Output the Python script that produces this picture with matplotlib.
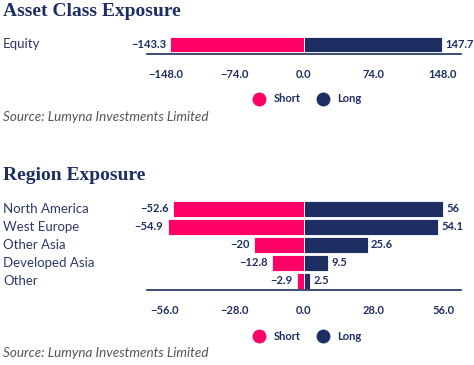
import matplotlib
matplotlib.use("Agg")
import matplotlib.pyplot as plt
from matplotlib.lines import Line2D
from matplotlib import transforms

asset_categories = ["Equity"]
asset_short = [-143.3]
asset_long = [147.7]
asset_ticks = [-148.0, -74.0, 0.0, 74.0, 148.0]

region_categories = ["North America", "West Europe", "Other Asia", "Developed Asia", "Other"]
region_short = [-52.6, -54.9, -20, -12.8, -2.9]
region_long = [56, 54.1, 25.6, 9.5, 2.5]
region_ticks = [-56.0, -28.0, 0.0, 28.0, 56.0]

PINK = "#FF0066"
NAVY = "#1D2F62"
GRAY = "#555555"
FONT = "Lato"

W, H = 474, 365
fig = plt.figure(figsize=(W / 100, H / 100), dpi=100)

def fmt_label(v):
    s = ("%g" % abs(v))
    return ("\u2212" + s) if v < 0 else s

def panel(title, title_y, cats, short, long_, ticks, ax_top, ax_bot, first_center, unit, lim,
          legend_y, source_y):
    x0, x1 = 147, 461
    ax = fig.add_axes([x0 / W, 1 - ax_bot / H, (x1 - x0) / W, (ax_bot - ax_top) / H])
    n = len(cats)
    ys = list(range(n))
    top_units = (first_center - ax_top) / unit
    bot_units = (ax_bot - (first_center + (n - 1) * unit)) / unit
    ax.set_ylim(n - 1 + bot_units, -top_units)
    ax.set_xlim(-lim, lim)
    h = 0.88
    ax.barh(ys, short, height=h, color=PINK, edgecolor="white", linewidth=0.6)
    ax.barh(ys, long_, height=h, color=NAVY, edgecolor="white", linewidth=0.6)
    for y, s, l in zip(ys, short, long_):
        ax.annotate(fmt_label(s), (s, y), xytext=(-3, 0), textcoords="offset points",
                    ha="right", va="center", fontsize=8, fontweight="bold", color=NAVY,
                    family=FONT, annotation_clip=False)
        ax.annotate(fmt_label(l), (l, y), xytext=(2.5, 0), textcoords="offset points",
                    ha="left", va="center", fontsize=8, fontweight="bold", color=NAVY,
                    family=FONT, annotation_clip=False)
    for sp in ["top", "right", "left"]:
        ax.spines[sp].set_visible(False)
    ax.spines["bottom"].set_color(NAVY)
    ax.spines["bottom"].set_linewidth(1.2)
    ax.set_yticks([])
    ax.set_xticks(ticks)
    ax.set_xticklabels([("\u2212%.1f" % abs(t)) if t < 0 else ("%.1f" % t) for t in ticks],
                       fontsize=8, fontweight="bold", color=NAVY, family=FONT)
    ax.tick_params(axis="x", length=0, pad=11)
    ax.patch.set_alpha(0)
    tr = transforms.blended_transform_factory(fig.transFigure, ax.transData)
    for y, c in zip(ys, cats):
        ax.text(3 / W, y, c, transform=tr, ha="left", va="center", fontsize=9.5,
                color="#2B3A66", family=FONT, fontweight="normal")
    fig.text(3 / W, 1 - title_y / H, title, ha="left", va="center", fontsize=14,
             fontweight="bold", color=NAVY, family="Liberation Serif")
    handles = [Line2D([], [], marker="o", linestyle="", markersize=9, color=PINK, label="Short"),
               Line2D([], [], marker="o", linestyle="", markersize=9, color=NAVY, label="Long")]
    leg = fig.legend(handles=handles, loc="center", bbox_to_anchor=(305 / W, 1 - legend_y / H),
                     ncol=2, frameon=False, handletextpad=0.3, columnspacing=1.0,
                     prop={"family": FONT, "weight": "bold", "size": 8})
    for t in leg.get_texts():
        t.set_color(NAVY)
    fig.text(3 / W, 1 - source_y / H, "Source: Lumyna Investments Limited", ha="left",
             va="center", fontsize=9.7, style="italic", color=GRAY, family=FONT)

panel("Asset Class Exposure", 12, asset_categories, asset_short, asset_long, asset_ticks,
      ax_top=30, ax_bot=54, first_center=44.5, unit=18, lim=168, legend_y=99, source_y=117)
panel("Region Exposure", 176, region_categories, region_short, region_long, region_ticks,
      ax_top=195, ax_bot=290, first_center=208.7, unit=18, lim=63.2, legend_y=336, source_y=353)

fig.savefig("out.png", dpi=100)
